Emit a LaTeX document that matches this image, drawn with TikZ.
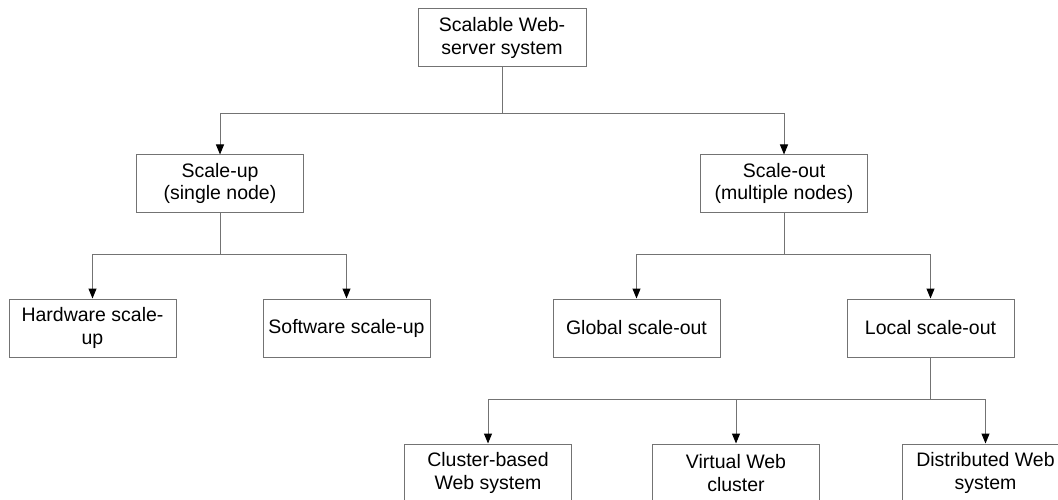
\documentclass[tikz,border=0pt]{standalone}
\usepackage{fontspec}
\setmainfont{Liberation Sans}
\usetikzlibrary{arrows.meta}
\definecolor{linegray}{gray}{0.45}
\tikzset{
  box/.style={draw=linegray, line width=1pt, minimum width=167pt, minimum height=58pt,
    inner sep=0pt, align=center, text=black,
    font=\fontsize{19.5}{22.5}\selectfont},
  link/.style={draw=linegray, line width=1pt},
  arrowlink/.style={link, -{Triangle[length=10pt,width=8pt,color=black,fill=black]}},
}
\begin{document}
\begin{tikzpicture}[x=1pt,y=-1pt]
  \useasboundingbox (0,0) rectangle (1058,500);
  \clip (0,0) rectangle (1058,500);

  % level 0
  \node[box, minimum width=168pt] (root) at (502,38) {Scalable Web-\\server system};

  % level 1
  \node[box, minimum height=57pt] (up)  at (220,183.5) {Scale-up\\(single node)};
  \node[box, minimum height=57pt] (out) at (784,183.5) {Scale-out\\(multiple nodes)};

  % level 2
  \node[box] (hw)     at (92.5,328)  {Hardware scale-\\up};
  \node[box] (sw)     at (346.5,328) {Software scale-up};
  \node[box] (global) at (636.5,328) {Global scale-out};
  \node[box] (local)  at (930.5,328) {Local scale-out};

  % level 3
  \node[box] (cluster) at (488,473)   {Cluster-based\\Web system};
  \node[box] (virtual) at (736,473)   {Virtual Web\\cluster};
  \node[box] (distrib) at (985.5,473) {Distributed Web\\system};

  % junction points of the connector bars
  \coordinate (j0) at (502,114);
  \coordinate (j1) at (220,254);
  \coordinate (j2) at (784,254);
  \coordinate (j3) at (930.5,399);

  % connectors
  \draw[link] (root.south) -- (j0);
  \draw[arrowlink] (j0) -| (up.north);
  \draw[arrowlink] (j0) -| (out.north);

  \draw[link] (up.south) -- (j1);
  \draw[arrowlink] (j1) -| (hw.north);
  \draw[arrowlink] (j1) -| (sw.north);

  \draw[link] (out.south) -- (j2);
  \draw[arrowlink] (j2) -| (global.north);
  \draw[arrowlink] (j2) -| (local.north);

  \draw[link] (local.south) -- (j3);
  \draw[arrowlink] (j3) -| (cluster.north);
  \draw[arrowlink] (j3) -| (virtual.north);
  \draw[arrowlink] (j3) -| (distrib.north);
\end{tikzpicture}
\end{document}
